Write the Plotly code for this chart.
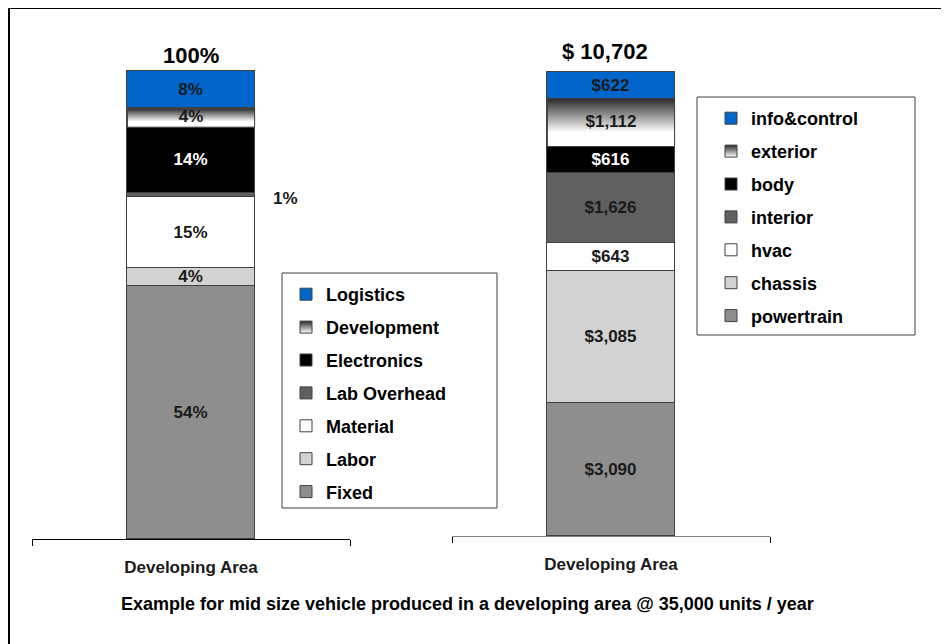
import plotly.graph_objects as go

# ---------------- data ----------------
CATEGORY = "Developing Area"

left_names = ["Fixed", "Labor", "Material", "Lab Overhead", "Electronics", "Development", "Logistics"]
left_values = [54, 4, 15, 1, 14, 4, 8]
left_total_label = "100%"

right_names = ["powertrain", "chassis", "hvac", "interior", "body", "exterior", "info&control"]
right_values = [3090, 3085, 643, 1626, 616, 1112, 622]
right_total_label = "$ 10,702"

footnote = "Example for mid size vehicle produced in a developing area @ 35,000 units / year"

# ---------------- styles ----------------
W, H = 949, 644
OFF = 8  # page body margin in the browser
seg_colors = ["#8E8E8E", "#D2D2D2", "#FFFFFF", "#606060", "#000000", None, "#0066CC"]
txt_colors = ["#1a1a1a", "#1a1a1a", "#1a1a1a", "#1a1a1a", "#FFFFFF", "#1a1a1a", "#1a1a1a"]
GRAD_INDEX = 5          # segment drawn with a vertical gradient
OUTSIDE_INDEX_LEFT = 3  # segment whose label sits outside the bar
BAR_W = 0.4
FONT = "Liberation Sans, Arial, sans-serif"
EDGE = "#404040"
LABEL_SIZE = 17
grad_scale = [[0, "#FFFFFF"], [0.3, "#FFFFFF"], [1, "#2A2A2A"]]


def px_x(p):
    return (p - OFF) / W


def px_y(p):
    return 1 - (p - OFF) / H


fig = go.Figure()


def add_stack(names, values, fmt, xa, ya, legend, outside_idx=None):
    cum = 0
    n_items = len(names)
    for i, (n, v) in enumerate(zip(names, values)):
        lo, hi = cum, cum + v
        cum = hi
        label = fmt(v)
        rank = n_items - i
        if i == GRAD_INDEX:
            fig.add_trace(go.Bar(
                x=[0], y=[v], name=n, width=BAR_W, xaxis=xa, yaxis=ya,
                marker=dict(color="#A0A0A0", line=dict(color=EDGE, width=1)),
                showlegend=False, legend=legend, legendgroup=n, textposition="none"))
            fig.add_trace(go.Scatter(
                x=[None], y=[None], name=n, mode="markers", xaxis=xa, yaxis=ya,
                marker=dict(symbol="square", size=12, color="#2A2A2A",
                            gradient=dict(type="vertical", color="#FFFFFF"),
                            line=dict(color=EDGE, width=1)),
                legend=legend, legendgroup=n, legendrank=rank, showlegend=True))
            fig.add_trace(go.Scatter(
                x=[-BAR_W / 2, BAR_W / 2, BAR_W / 2, -BAR_W / 2, -BAR_W / 2],
                y=[lo, lo, hi, hi, lo], mode="lines", fill="toself",
                fillgradient=dict(type="vertical", colorscale=grad_scale),
                line=dict(color=EDGE, width=1), xaxis=xa, yaxis=ya,
                hoverinfo="skip", showlegend=False, legend=legend))
            fig.add_trace(go.Scatter(
                x=[0], y=[(lo + hi) / 2], mode="text", text=[label],
                textfont=dict(family=FONT, size=LABEL_SIZE, color=txt_colors[i], weight=700),
                xaxis=xa, yaxis=ya, hoverinfo="skip", showlegend=False, legend=legend))
        else:
            fig.add_trace(go.Bar(
                x=[0], y=[v], name=n, width=BAR_W, xaxis=xa, yaxis=ya,
                marker=dict(color=seg_colors[i], line=dict(color=EDGE, width=1)),
                text=[label] if i != outside_idx else None,
                textposition="inside" if i != outside_idx else "none",
                insidetextanchor="middle", textangle=0,
                textfont=dict(family=FONT, size=LABEL_SIZE, color=txt_colors[i], weight=700),
                legend=legend, legendgroup=n, legendrank=rank, showlegend=True))
    return cum


left_sum = add_stack(left_names, left_values, lambda v: f"{v}%", "x", "y", "legend",
                     outside_idx=OUTSIDE_INDEX_LEFT)
right_sum = add_stack(right_names, right_values, lambda v: f"${v:,}", "x2", "y2", "legend2")

# outside label for the thin segment
lo_out = sum(left_values[:OUTSIDE_INDEX_LEFT])
fig.add_annotation(x=BAR_W / 2, y=lo_out + left_values[OUTSIDE_INDEX_LEFT] / 2,
                   xref="x", yref="y", text=f"{left_values[OUTSIDE_INDEX_LEFT]}%",
                   showarrow=False, xanchor="left", xshift=16, yshift=-3,
                   font=dict(family=FONT, size=LABEL_SIZE, color="#1a1a1a", weight=700))

# totals
fig.add_annotation(x=0, y=left_sum, xref="x", yref="y", text=left_total_label,
                   showarrow=False, yanchor="bottom", yshift=1,
                   font=dict(family=FONT, size=22, color="#000000", weight=700))
fig.add_annotation(x=0, y=right_sum, xref="x2", yref="y2", text=right_total_label,
                   showarrow=False, yanchor="bottom", yshift=6, xshift=-6,
                   font=dict(family=FONT, size=22, color="#000000", weight=700))

# footnote
fig.add_annotation(x=px_x(467), y=px_y(604), xref="paper", yref="paper", text=footnote,
                   showarrow=False, xanchor="center", yanchor="middle",
                   font=dict(family=FONT, size=18, color="#000000", weight=700))

# frames
fig.add_shape(type="rect", xref="paper", yref="paper", x0=px_x(9), x1=1.05,
              y0=-0.05, y1=px_y(8), line=dict(color="#000000", width=2))
fig.add_shape(type="rect", xref="paper", yref="paper", x0=px_x(282), x1=px_x(497),
              y0=px_y(508), y1=px_y(273), line=dict(color=EDGE, width=1))
fig.add_shape(type="rect", xref="paper", yref="paper", x0=px_x(697), x1=px_x(915),
              y0=px_y(335), y1=px_y(97), line=dict(color=EDGE, width=1))

# axes geometry
L_BOTTOM, L_TOP_BAR, TOP = 539, 71, 40
R_BOTTOM, R_TOP_BAR = 536, 72
left_range = [0, left_sum * (L_BOTTOM - TOP) / (L_BOTTOM - L_TOP_BAR)]
right_range = [0, right_sum * (R_BOTTOM - TOP) / (R_BOTTOM - R_TOP_BAR)]

tickfont = dict(family=FONT, size=17, color="#1a1a1a", weight=700)
xcommon = dict(range=[-0.5, 0.5], tickvals=[0], ticktext=[CATEGORY], ticks="",
               showgrid=False, zeroline=False, showline=True, fixedrange=True,
               tickfont=tickfont, ticklabelstandoff=13)
minor = dict(tickvals=[-0.5, 0.5], ticks="outside", ticklen=6, tickwidth=1,
             tickcolor="#000000")
legend_font = dict(family=FONT, size=18, color="#000000", weight=700)

fig.update_layout(
    width=W, height=H, margin=dict(l=0, r=0, t=0, b=0),
    paper_bgcolor="white", plot_bgcolor="rgba(0,0,0,0)",
    barmode="stack", bargap=0,
    uniformtext=dict(minsize=LABEL_SIZE, mode="show"),
    xaxis=dict(domain=[px_x(32), px_x(350)], anchor="y", linecolor="#000000",
               minor=minor, **xcommon),
    yaxis=dict(domain=[px_y(L_BOTTOM), px_y(TOP)], range=left_range, visible=False,
               anchor="x"),
    xaxis2=dict(domain=[px_x(452), px_x(770)], anchor="y2", linecolor="#808080",
                minor=minor, **xcommon),
    yaxis2=dict(domain=[px_y(R_BOTTOM), px_y(TOP)], range=right_range, visible=False,
                anchor="x2"),
    legend=dict(x=px_x(286), y=px_y(276), xanchor="left", yanchor="top",
                traceorder="grouped", tracegroupgap=6.5,
                bgcolor="rgba(0,0,0,0)", borderwidth=0, font=legend_font),
    legend2=dict(x=px_x(711), y=px_y(100), xanchor="left", yanchor="top",
                 traceorder="grouped", tracegroupgap=6.5,
                 bgcolor="rgba(0,0,0,0)", borderwidth=0, font=legend_font),
    showlegend=True,
)

fig.write_html("out.html")
